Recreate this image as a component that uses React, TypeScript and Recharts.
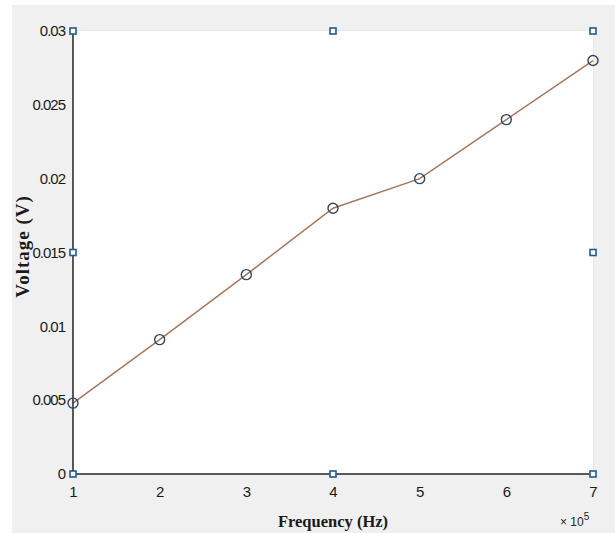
import React from 'react';
import {
  ComposedChart,
  Line,
  Scatter,
  XAxis,
  YAxis,
  CartesianGrid,
  Label,
} from 'recharts';

// frequency in units of 1e5 Hz
const frequencies = [1, 2, 3, 4, 5, 6, 7];
const voltages = [0.0048, 0.0091, 0.0135, 0.018, 0.02, 0.024, 0.028];

const xTicks = [1, 2, 3, 4, 5, 6, 7];
const yTicks = [0, 0.005, 0.01, 0.015, 0.02, 0.025, 0.03];

// small square data-cursor marks from the original figure
const cursorX = [1, 4, 7, 1, 7, 1, 4, 7];
const cursorY = [0.03, 0.03, 0.03, 0.015, 0.015, 0, 0, 0];

const lineData = frequencies.map((f, i) => ({ f, v: voltages[i] }));
const cursorData = cursorX.map((f, i) => ({ f, v: cursorY[i] }));

const tickStyle = {
  fill: '#1a1a1a',
  fontSize: 15,
  letterSpacing: -1,
  fontFamily: 'Liberation Sans, Arial, sans-serif',
};

const SquareMark = (props: any) => {
  const { cx, cy } = props;
  if (cx == null || cy == null) return null;
  return (
    <rect
      x={cx - 3}
      y={cy - 3}
      width={6}
      height={6}
      fill="#ffffff"
      stroke="#1f5c8c"
      strokeWidth={1.6}
    />
  );
};

export default function App() {
  return (
    <div
      style={{
        position: 'absolute',
        left: 0,
        top: 0,
        width: 615,
        height: 533,
        background: '#ffffff',
      }}
    >
      <div
        style={{
          position: 'absolute',
          left: 12,
          top: 5,
          width: 603,
          height: 528,
          background: '#f0f0f0',
        }}
      />
      <div style={{ position: 'absolute', left: 0, top: 0 }}>
        <ComposedChart
          width={615}
          height={533}
          margin={{ top: 31, right: 22, bottom: 29, left: 13 }}
        >
          <rect x={73} y={31} width={520} height={443} fill="#ffffff" />
          <CartesianGrid stroke="#dcdcdc" strokeWidth={1} />
          <XAxis
            type="number"
            dataKey="f"
            domain={[1, 7]}
            ticks={xTicks}
            height={30}
            tick={tickStyle}
            tickLine={false}
            axisLine={{ stroke: '#262626', strokeWidth: 1.5 }}
            tickMargin={6}
          >
            <Label
              value="Frequency (Hz)"
              position="insideBottom"
              offset={-23}
              style={{
                fill: '#1a1a1a',
                fontSize: 16.5,
                fontWeight: 700,
                fontFamily: 'Liberation Serif, Times New Roman, serif',
              }}
            />
          </XAxis>
          <YAxis
            type="number"
            dataKey="v"
            domain={[0, 0.03]}
            ticks={yTicks}
            width={60}
            tick={tickStyle}
            tickLine={false}
            axisLine={{ stroke: '#262626', strokeWidth: 1.5 }}
            tickMargin={2}
          >
            <Label
              value="Voltage (V)"
              angle={-90}
              position="insideLeft"
              offset={9}
              dy={-6}
              style={{
                textAnchor: 'middle',
                fill: '#1a1a1a',
                fontSize: 19,
                letterSpacing: 1,
                fontWeight: 700,
                fontFamily: 'Liberation Serif, Times New Roman, serif',
              }}
            />
          </YAxis>
          <Line
            data={lineData}
            dataKey="v"
            type="linear"
            stroke="#a8765e"
            strokeWidth={1.5}
            dot={{ r: 5, stroke: '#2e4763', strokeWidth: 1.4, fill: 'none' }}
            activeDot={false}
            isAnimationActive={false}
          />
          <Scatter
            data={cursorData}
            dataKey="v"
            shape={<SquareMark />}
            isAnimationActive={false}
          />
          <text
            x={560}
            y={526}
            fontSize={12}
            fill="#262626"
            fontFamily="Liberation Sans, Arial, sans-serif"
          >
            {'\u00d7 10'}
            <tspan dy={-6} fontSize={10}>
              5
            </tspan>
          </text>
        </ComposedChart>
      </div>
    </div>
  );
}
